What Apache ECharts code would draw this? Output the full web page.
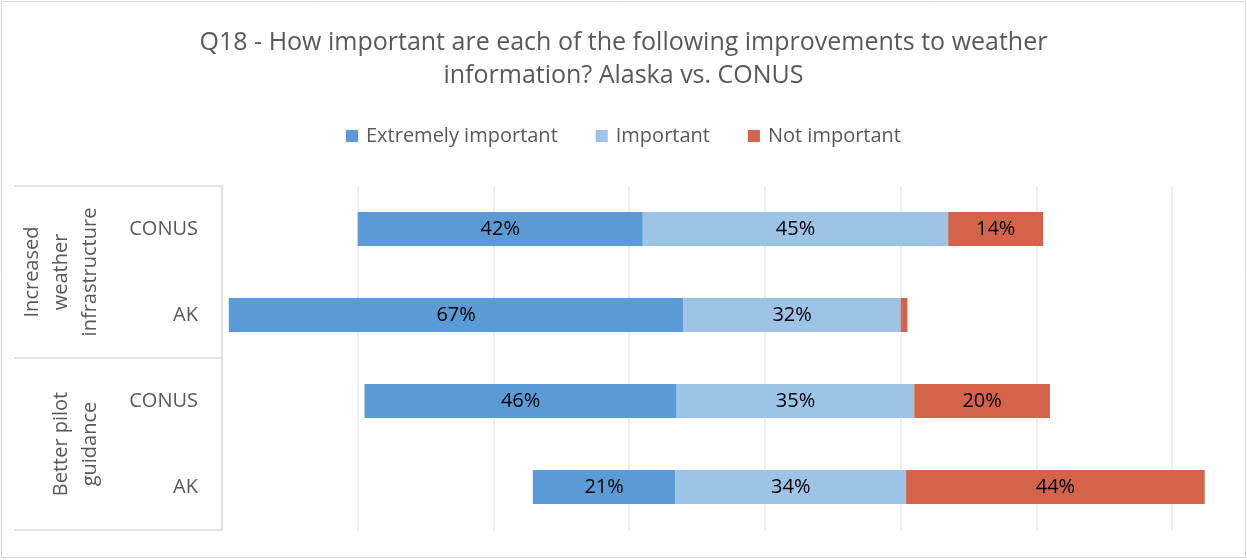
<!DOCTYPE html>
<html>
<head>
<meta charset="utf-8">
<script src="https://cdn.jsdelivr.net/npm/echarts@6/dist/echarts.min.js"></script>
<style>
  html, body { margin: 0; padding: 0; background: #fff; }
  #chart { width: 1247px; height: 560px; }
</style>
</head>
<body>
<div id="chart"></div>
<script>
// Survey answers, one row per region within each improvement group (top to bottom)
const regions = ['CONUS', 'AK', 'CONUS', 'AK'];
const groups = ['Increased\nweather\ninfrastructure', 'Better pilot\nguidance'];
const seriesNames = ['Extremely important', 'Important', 'Not important'];

// Invisible lead-in so each bar is shifted to line up the answers
const offsets = [20, 1, 21, 45.8];
const extremelyImportant = [42, 67, 46, 21];
const important = [45, 32, 35, 34];
const notImportant = [14, 1, 20, 44];

const colors = ['#5B9BD5', '#9DC3E6', '#D3644B'];
const textFont = '"Open Sans", "Liberation Sans", sans-serif';
const textGray = '#595959';

const chart = echarts.init(document.getElementById('chart'), null, { renderer: 'canvas' });

function valueSeries(name, data, color) {
  return {
    name: name,
    type: 'bar',
    stack: 'total',
    barWidth: 34,
    data: data,
    itemStyle: { color: color },
    label: {
      show: true,
      position: 'inside',
      color: '#000',
      fontFamily: textFont,
      fontSize: 20,
      formatter: p => (p.value >= 5 ? p.value + '%' : '')
    },
    emphasis: { disabled: true }
  };
}

chart.setOption({
  animation: false,
  backgroundColor: '#fff',
  title: {
    text: 'Q18 - How important are each of the following improvements to weather\ninformation? Alaska vs. CONUS',
    left: 'center',
    top: 21,
    textStyle: {
      fontFamily: textFont,
      fontSize: 25,
      fontWeight: 'normal',
      color: textGray,
      lineHeight: 33
    }
  },
  legend: {
    data: seriesNames,
    top: 121,
    left: 'center',
    itemWidth: 12,
    itemHeight: 12,
    itemGap: 38,
    icon: 'rect',
    textStyle: { fontFamily: textFont, fontSize: 20, color: textGray, padding: [0, 0, 0, 3] }
  },
  graphic: [{
    type: 'rect',
    shape: { x: 1.5, y: 1.5, width: 1244, height: 556 },
    style: { fill: 'none', stroke: '#d9d9d9', lineWidth: 1 },
    silent: true,
    z: -1
  }],
  grid: { left: 222, right: 7, top: 186, bottom: 30, containLabel: false },
  xAxis: {
    type: 'value',
    min: 0,
    max: 150,
    interval: 20,
    axisLabel: { show: false },
    axisLine: { show: false },
    axisTick: { show: false },
    splitLine: {
      show: true,
      showMinLine: false,
      showMaxLine: false,
      lineStyle: { color: '#ebebeb', width: 1.5 }
    }
  },
  yAxis: [
    {
      type: 'category',
      data: regions,
      inverse: true,
      axisLine: { show: true, lineStyle: { color: '#d9d9d9', width: 1.5 } },
      axisTick: { show: false },
      axisLabel: {
        margin: 24,
        fontFamily: textFont,
        fontSize: 20,
        color: textGray
      }
    },
    {
      type: 'category',
      data: groups,
      inverse: true,
      position: 'left',
      offset: 0,
      axisLine: { show: false },
      axisTick: {
        show: true,
        length: 208,
        lineStyle: { color: '#d9d9d9', width: 1.5 }
      },
      axisLabel: {
        rotate: 90,
        margin: 117,
        fontFamily: textFont,
        fontSize: 20,
        lineHeight: 29,
        color: textGray
      }
    }
  ],
  series: [
    {
      name: 'offset',
      type: 'bar',
      stack: 'total',
      barWidth: 34,
      data: offsets,
      itemStyle: { color: 'rgba(0,0,0,0)' },
      silent: true,
      label: { show: false },
      emphasis: { disabled: true }
    },
    valueSeries(seriesNames[0], extremelyImportant, colors[0]),
    valueSeries(seriesNames[1], important, colors[1]),
    valueSeries(seriesNames[2], notImportant, colors[2])
  ]
});
</script>
</body>
</html>
